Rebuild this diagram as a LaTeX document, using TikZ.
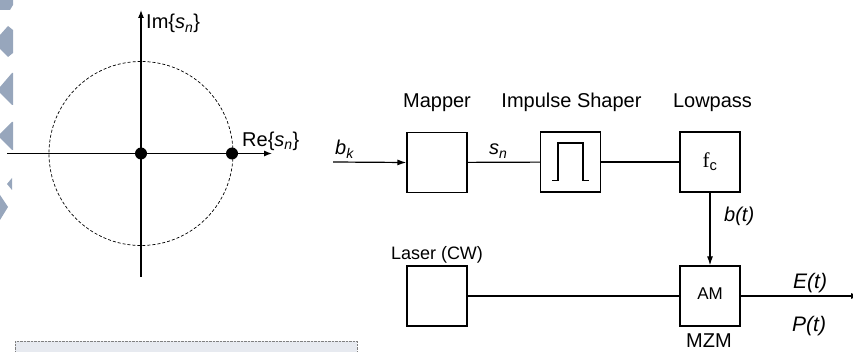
\documentclass[tikz,border=0pt]{standalone}
\usepackage{fontspec}
\setmainfont{Liberation Sans}
\newfontfamily\seriffont{Liberation Serif}
\usetikzlibrary{arrows.meta,positioning}
\definecolor{deco}{HTML}{97A6BC}
\definecolor{notefill}{HTML}{E7EAF0}
\newcommand{\isub}[2]{\textit{#1}\textsubscript{\textit{#2}}}

\begin{document}
\begin{tikzpicture}[
    x=1pt, y=-1pt,
    block/.style={draw, line width=1.2pt, minimum width=60pt, minimum height=60pt, inner sep=0pt},
    hdr/.style={font=\fontsize{20}{22}\selectfont, anchor=base, inner sep=0pt},
    sig/.style={font=\fontsize{20}{22}\selectfont, anchor=base west, inner sep=0pt},
    wire/.style={line width=1.2pt},
    arrow/.style={-{Latex[length=9pt,width=6pt]}, line width=1.2pt},
    dot/.style={circle, fill, minimum size=12pt, inner sep=0pt}
]
\clip (0,0) rectangle (853,352);

% Slide decoration on the left edge
\fill[deco] (0,0) -- (13,0) -- (13,5) -- (10,10) -- (0,10) -- cycle;
\fill[deco] (0,35) -- (8,26) -- (13,30) -- (13,53) -- (8,57) -- (0,49) -- cycle;
\fill[deco] (0,87) -- (12,73) -- (13,73) -- (13,105) -- (12,105) -- (0,93) -- cycle;
\fill[deco] (0,134) -- (12,122) -- (13,122) -- (13,150) -- (12,150) -- (0,138) -- cycle;
\fill[deco] (7,184) -- (12,178) -- (12,190) -- cycle;
\fill[deco] (0,195) -- (8,207) -- (0,220) -- cycle;

% Note box at the bottom
\draw[densely dotted, gray, fill=notefill] (15,341) rectangle (357,362);

% Constellation diagram
\coordinate (o) at (141,153.5);
\coordinate (xl) at (7,153.5);
\coordinate (xr) at (272,153.5);
\coordinate (yb) at (141,277);
\coordinate (yt) at (141,10);
\draw[dashed, line width=0.7pt, dash pattern=on 3pt off 2pt] (o) circle (92pt);
\draw[-{Latex[length=8pt,width=6pt]}, line width=1.1pt] (xl) -- (xr);
\draw[-{Latex[length=8pt,width=6pt]}, line width=1.1pt] (yb) -- (yt);
\node[dot] (s0) at (o) {};
\node[dot] (s1) at (232,153.5) {};
\node[sig] (imlbl) at (146,29) {Im\{\isub{s}{n}\}};
\node[sig] (relbl) at (242,146.5) {Re\{\isub{s}{n}\}};

% Transmitter blocks
\node[block, font=\fontsize{21}{23}\selectfont] (lowpass) at (710,162) {{\seriffont f}\textsubscript{c}};
\node[block] (mapper) at (437,162.5) {};
\node[block] (shaper) at (570.5,162) {};
\node[block, font=\fontsize{17}{19}\selectfont] (mzm) at (710,296) {\raisebox{5pt}{AM}};
\node[block] (laser) at (437,296) {};

% Block titles
\node[hdr] (mapperlbl) at (437,108) {Mapper};
\node[hdr] (shaperlbl) at (571.5,108) {Impulse Shaper};
\node[hdr] (lowpasslbl) at (712.5,108) {Lowpass};
\node[hdr, font=\fontsize{18}{20}\selectfont] (laserlbl) at (437,260) {Laser (CW)};
\node[hdr] (mzmlbl) at (709,347) {MZM};

% Rectangular pulse
\draw[line width=1.2pt] ([shift={(-18.5,18.7)}]shaper.center) -- ++(6,0) -- ++(0,-37.7)
    -- ++(25,0) -- ++(0,37.7) -- ++(6,0);

% Connections
\coordinate (in) at (333,162);
\coordinate (out) at (860,296);
\draw[arrow] (in) -- (mapper.west);
\draw[wire] (mapper) -- (shaper);
\draw[wire] (shaper) -- (lowpass);
\draw[arrow] (lowpass) -- (mzm);
\draw[wire] (laser) -- (mzm);
\draw[arrow] (mzm) -- (out);

% Signal labels
\node[sig] (bk) at (335,155) {\isub{b}{k}};
\node[sig] (sn) at (489,155) {\isub{s}{n}};
\node[sig] (bt) at (724,222) {\textit{b(t)}};
\node[sig, font=\fontsize{21}{23}\selectfont] (et) at (793,289) {\textit{E(t)}};
\node[sig, font=\fontsize{21}{23}\selectfont] (pt) at (792,331) {\textit{P(t)}};

\end{tikzpicture}
\end{document}
